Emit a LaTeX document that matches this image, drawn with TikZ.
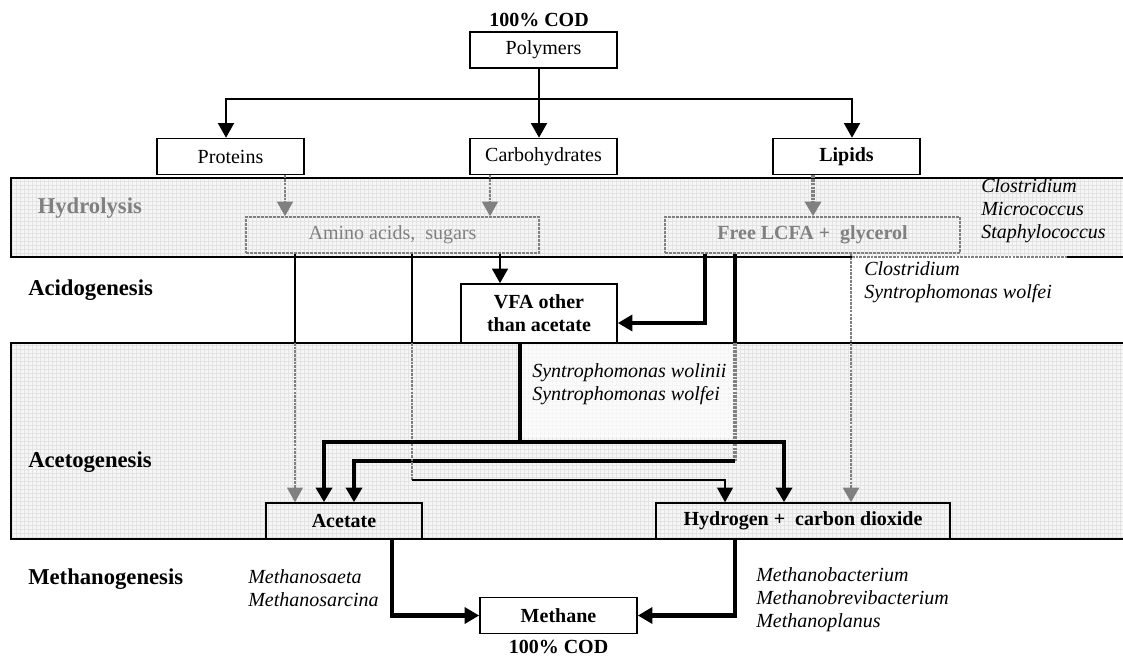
\documentclass[tikz,border=0pt]{standalone}
\usepackage{fontspec}
\setmainfont{Liberation Serif}
\usetikzlibrary{arrows.meta,patterns}

\newcommand{\diafont}{\fontsize{15}{17.25}\selectfont}

\tikzset{
  box/.style={draw, line width=1.2pt, minimum height=27pt, inner sep=2pt},
  hbox/.style={draw=gray, dash pattern=on 2pt off 1pt, line width=1.2pt, text=gray, minimum height=27pt},
  stage/.style={anchor=west, inner sep=0pt, font=\fontsize{17}{20}\selectfont\bfseries},
  bugs/.style={anchor=west, inner sep=0pt, align=left, font=\diafont\itshape},
  slimline/.style={line width=0.8pt},
  midline/.style={line width=1.5pt},
  fatline/.style={line width=3.4pt},
  covered/.style={gray, dash pattern=on 2pt off 0.8pt},
}

\begin{document}
\begin{tikzpicture}[x=0.75pt, y=-0.75pt, font=\diafont, >={Triangle[width=12pt,length=11pt]}]
\useasboundingbox (0,0) rectangle (1123,657);

% the two shaded bands
\foreach \ya/\yb in {178/257, 343/539} {
  \fill[gray!7] (11,\ya) rectangle (1123,\yb);
  \fill[pattern=grid, pattern color=gray!22] (11,\ya) rectangle (1123,\yb);
  \draw[line width=1.2pt] (1123,\ya) -- (11,\ya) -- (11,\yb) -- (1123,\yb);
}
\fill[white, opacity=.65] (522,345) rectangle (735,438);
\draw[white, line width=1.4pt] (852,257) -- (1067,257);
\draw[covered, line width=1.2pt] (852,257) -- (1067,257);

% stages
\node[stage, text=gray] (hydro) at (37.5,208) {Hydrolysis};
\node[stage] (acido) at (28,290) {Acidogenesis};
\node[stage] (aceto) at (28,462) {Acetogenesis};
\node[stage] (methano) at (28,579) {Methanogenesis};

% boxes
\node[inner sep=0pt, font=\diafont\bfseries] (codtop) at (539,20) {100\% COD};
\node[box, minimum width=110pt] (poly) at (543.5,50) {Polymers};
\coordinate (split) at (539,99);
\node[box, minimum width=110pt] (prot) at (230.5,156.5) {Proteins};
\node[box, minimum width=110pt] (carb) at (543.5,156.5) {Carbohydrates};
\node[box, minimum width=110pt, font=\diafont\bfseries] (lip) at (846.5,156.5) {Lipids};
\node[hbox, minimum width=219.75pt] (amino) at (392.5,235) {Amino acids,\ \ sugars};
\node[hbox, minimum width=221.25pt, font=\diafont\bfseries] (lcfa) at (812.5,235) {Free LCFA +\ \ glycerol};
\node[box, minimum width=117pt, minimum height=44.25pt, align=center, font=\diafont\bfseries] (vfa) at (539,313.5) {VFA other\\than acetate};
\node[box, minimum width=117pt, font=\diafont\bfseries] (acet) at (344,521) {Acetate};
\node[box, minimum width=220.5pt, font=\diafont\bfseries] (hyd) at (803,521) {Hydrogen +\ \ carbon dioxide};
\node[box, minimum width=117.75pt, font=\diafont\bfseries] (meth) at (558.5,615.5) {Methane};
\node[inner sep=0pt, font=\diafont\bfseries] (codbot) at (558.5,647) {100\% COD};

% organisms
\node[bugs] (bugs1) at (981,211) {Clostridium\\Micrococcus\\Staphylococcus};
\node[bugs] (bugs2) at (864,282) {Clostridium\\Syntrophomonas wolfei};
\node[bugs] (bugs3) at (532,384) {Syntrophomonas wolinii\\Syntrophomonas wolfei};
\node[bugs] (bugs4) at (248,588) {Methanosaeta\\Methanosarcina};
\node[bugs] (bugs5) at (756,600) {Methanobacterium\\Methanobrevibacterium\\Methanoplanus};

% polymers
\draw[midline, ->] (poly.south -| split) -- (carb.north -| split);
\draw[midline, ->] (split) -| (prot.north -| 226,0);
\draw[midline, ->] (split) -| (lip.north -| 852,0);

% hydrolysis
\draw[covered, midline, ->] (prot.south -| 285,0) -- (amino.north -| 285,0);
\draw[covered, midline, ->] (carb.south -| 490,0) -- (amino.north -| 490,0);
\draw[covered, line width=3pt, ->] (lip.south -| 813,0) -- (lcfa.north -| 813,0);

% acidogenesis
\draw[midline, ->] (amino.south -| 500,0) -- (vfa.north -| 500,0);
\draw[fatline, ->] (lcfa.south -| 705,0) |- (vfa.east |- 0,323);
\coordinate (k1) at (735,343);
\coordinate (k2) at (735,461);
\draw[fatline] (lcfa.south -| 735,0) -- (k1);
\draw[fatline, covered] (k1) -- (k2);
\draw[fatline, ->] (k2) -| (acet.north -| 354,0);
\coordinate (k3) at (295,343);
\draw[slimline] (amino.south -| 295,0) -- (k3);
\draw[slimline, covered, ->] (k3) -- (acet.north -| 295,0);
\coordinate (k4) at (412,343);
\coordinate (k5) at (412,480);
\draw[slimline] (amino.south -| 412,0) -- (k4);
\draw[slimline, covered] (k4) -- (k5);
\draw[slimline, ->] (k5) -| (hyd.north -| 725,0);
\draw[covered, line width=2.2pt, ->] (lcfa.south -| 851,0) -- (hyd.north -| 851,0);

% acetogenesis
\coordinate (k6) at (520,442);
\draw[fatline] (vfa.south -| 520,0) -- (k6);
\draw[fatline, ->] (k6) -| (acet.north -| 324,0);
\draw[fatline, ->] (k6) -| (hyd.north -| 784,0);

% methanogenesis
\draw[fatline, ->] (acet.south -| 392,0) |- (meth.west);
\draw[fatline, ->] (hyd.south -| 735,0) |- (meth.east);
\end{tikzpicture}
\end{document}
